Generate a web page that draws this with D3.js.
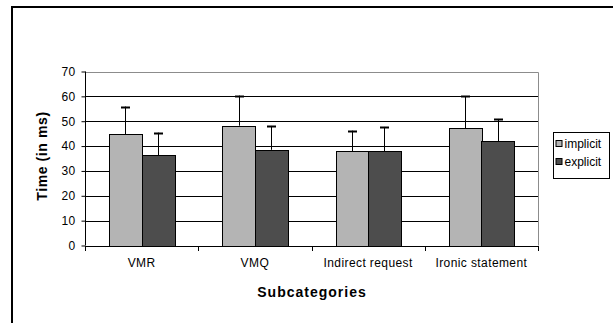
<!DOCTYPE html>
<html>
<head>
<meta charset="utf-8">
<script src="https://cdn.jsdelivr.net/npm/d3@7"></script>
<style>
  body { margin: 0; background: #fff; }
  svg { display: block; font-family: Arial, "Liberation Sans", sans-serif; }
</style>
</head>
<body>
<svg id="chart" width="613" height="323"></svg>
<script>
// chart data
var categories = ['VMR', 'VMQ', 'Indirect request', 'Ironic statement'];
var seriesNames = ['implicit', 'explicit'];
var implicitMeans = [44.8, 48.2, 38.0, 47.2];
var explicitMeans = [36.4, 38.5, 38.0, 42.0];
var implicitErr = [11.1, 12.1, 8.2, 12.8];
var explicitErr = [9.0, 9.6, 9.7, 8.9];
var yTicks = [0, 10, 20, 30, 40, 50, 60, 70];

var seriesColors = ['#b4b4b4', '#4d4d4d'];

var svg = d3.select('#chart');

// outer frame (runs off the right and bottom edge like the original)
svg.append('path')
    .attr('d', 'M12,330 L12,7 L620,7')
    .style('fill', 'none')
    .style('stroke', '#000')
    .style('stroke-width', 2);

var plotLeft = 85, plotRight = 538, plotTop = 71.5, plotBottom = 245.5;

var x = d3.scaleBand().domain(categories).range([plotLeft, plotRight]).paddingInner(0).paddingOuter(0);
var y = d3.scaleLinear().domain([0, 70]).range([plotBottom, plotTop]);

var g = svg.append('g');

// gridlines
g.selectAll('.grid').data(yTicks.filter(function(d) { return d > 0 && d < 70; })).enter().append('line')
    .attr('x1', plotLeft).attr('x2', plotRight)
    .attr('y1', function(d) { return Math.round(y(d)) + 0.5; })
    .attr('y2', function(d) { return Math.round(y(d)) + 0.5; })
    .style('stroke', '#000')
    .style('stroke-width', 1);

// plot border top/right (grey)
g.append('path')
    .attr('d', 'M' + plotLeft + ',' + (Math.round(plotTop) + 0.5) + ' L' + (plotRight + 0.5) + ',' + (Math.round(plotTop) + 0.5) + ' L' + (plotRight + 0.5) + ',' + plotBottom)
    .style('fill', 'none')
    .style('stroke', '#8c8c8c');

// bars
var groupWidth = 65;
var barW = groupWidth / 2;
var series = [implicitMeans, explicitMeans];
var errs = [implicitErr, explicitErr];

var barX = function(d, s) { return x(d.cat) + (x.bandwidth() - groupWidth) / 2 + s * barW; };

series.forEach(function(vals, s) {
    var bars = categories.map(function(c, i) { return {cat: c, v: vals[i], e: errs[s][i]}; });

    // error bars (drawn under the bars)
    g.selectAll('.err' + s).data(bars).enter().append('line')
        .attr('x1', function(d) { return Math.round(barX(d, s) + barW / 2) + 0.5; })
        .attr('x2', function(d) { return Math.round(barX(d, s) + barW / 2) + 0.5; })
        .attr('y1', function(d) { return y(d.v); })
        .attr('y2', function(d) { return y(d.v + d.e); })
        .style('stroke', '#000');

    g.selectAll('.cap' + s).data(bars).enter().append('line')
        .attr('x1', function(d) { return Math.round(barX(d, s) + barW / 2) - 4; })
        .attr('x2', function(d) { return Math.round(barX(d, s) + barW / 2) + 5; })
        .attr('y1', function(d) { return Math.round(y(d.v + d.e)) + 0.5; })
        .attr('y2', function(d) { return Math.round(y(d.v + d.e)) + 0.5; })
        .style('stroke', '#000')
        .style('stroke-width', 2);

    g.selectAll('.bar' + s).data(bars).enter().append('rect')
        .attr('x', function(d) { return Math.round(barX(d, s)) + 0.5; })
        .attr('y', function(d) { return Math.round(y(d.v)) + 0.5; })
        .attr('width', Math.round(barW))
        .attr('height', function(d) { return Math.round(y(0)) - Math.round(y(d.v)); })
        .style('fill', seriesColors[s])
        .style('stroke', '#000')
        .style('stroke-width', 1);
});

// y axis
var yAxis = g.append('g')
    .attr('transform', 'translate(' + (plotLeft + 0.5) + ',0)')
    .call(d3.axisLeft(y).tickValues(yTicks).tickSize(4).tickPadding(6));
yAxis.selectAll('text').style('font-size', '12px').style('letter-spacing', '0.3px').style('fill', '#000');
yAxis.selectAll('line, path').style('stroke', '#000');
yAxis.select('.domain').attr('d', 'M0,' + plotTop + 'V' + plotBottom);

// x axis
var xAxis = g.append('g')
    .attr('transform', 'translate(0,' + (Math.round(plotBottom) + 0.5) + ')')
    .call(d3.axisBottom(x).tickSize(0).tickPadding(12));
xAxis.selectAll('text').style('font-size', '12px').style('letter-spacing', '0.4px').style('fill', '#000');
xAxis.select('.domain').attr('d', 'M' + plotLeft + ',0H' + plotRight).style('stroke', '#000');

// category boundary ticks
var bounds = categories.map(function(c) { return x(c); }).concat([plotRight]);
g.selectAll('.xtick').data(bounds).enter().append('line')
    .attr('x1', function(d) { return Math.round(d) + 0.5; })
    .attr('x2', function(d) { return Math.round(d) + 0.5; })
    .attr('y1', Math.round(plotBottom))
    .attr('y2', Math.round(plotBottom) + 5)
    .style('stroke', '#000');

// axis titles
svg.append('text')
    .attr('transform', 'translate(47,156) rotate(-90)')
    .attr('text-anchor', 'middle')
    .style('font-size', '14px')
    .style('letter-spacing', '0.6px')
    .style('font-weight', 'bold')
    .text('Time (in ms)');

svg.append('text')
    .attr('x', 312)
    .attr('y', 297)
    .attr('text-anchor', 'middle')
    .style('font-size', '14px')
    .style('letter-spacing', '1px')
    .style('font-weight', 'bold')
    .text('Subcategories');

// legend
var legend = svg.append('g').attr('transform', 'translate(553.5,132.5)');
legend.append('rect')
    .attr('width', 56).attr('height', 46)
    .style('fill', '#fff').style('stroke', '#000');

legend.selectAll('.lg').data(seriesNames).enter().append('rect')
    .attr('x', 2.5)
    .attr('y', function(d, i) { return 8 + i * 18; })
    .attr('width', 6).attr('height', 6)
    .style('fill', function(d, i) { return seriesColors[i]; })
    .style('stroke', '#000');

legend.selectAll('.lt').data(seriesNames).enter().append('text')
    .attr('x', 11)
    .attr('y', function(d, i) { return 15 + i * 18; })
    .style('font-size', '12px')
    .text(function(d) { return d; });
</script>
</body>
</html>
